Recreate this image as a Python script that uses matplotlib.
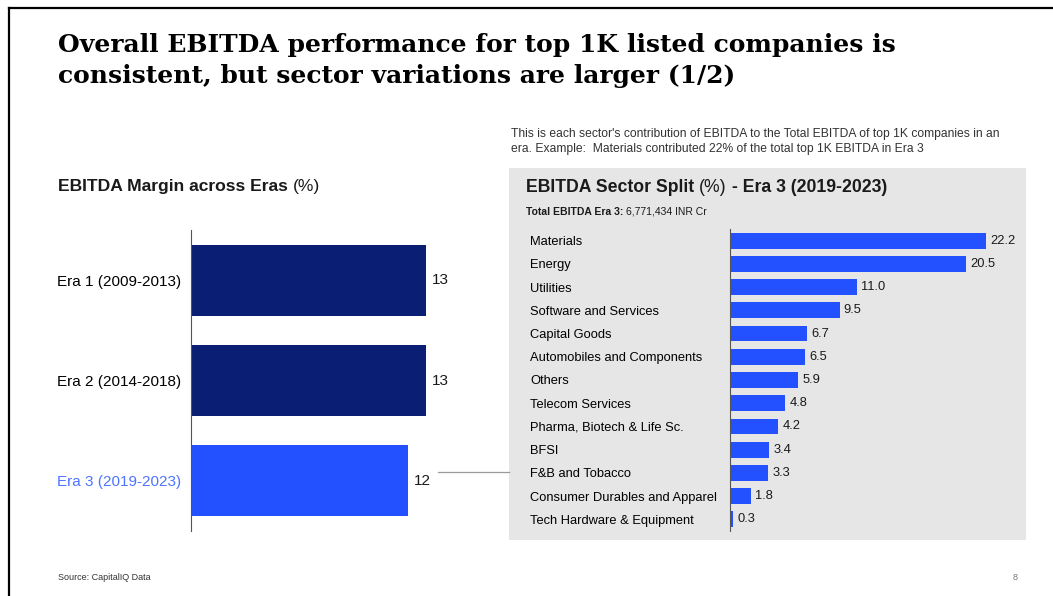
import matplotlib.pyplot as plt
from matplotlib.patches import Rectangle

# data
eras = ["Era 1 (2009-2013)", "Era 2 (2014-2018)", "Era 3 (2019-2023)"]
era_margin = [13, 13, 12]

sectors = ["Materials", "Energy", "Utilities", "Software and Services", "Capital Goods",
           "Automobiles and Components", "Others", "Telecom Services",
           "Pharma, Biotech & Life Sc.", "BFSI", "F&B and Tobacco",
           "Consumer Durables and Apparel", "Tech Hardware & Equipment"]
sector_share = [22.2, 20.5, 11.0, 9.5, 6.7, 6.5, 5.9, 4.8, 4.2, 3.4, 3.3, 1.8, 0.3]

NAVY = "#0A1F73"
BLUE = "#2451FF"
W, H = 1053, 596

plt.rcParams["font.family"] = ["Liberation Sans", "DejaVu Sans"]
fig = plt.figure(figsize=(W / 100, H / 100), dpi=100)
renderer = fig.canvas.get_renderer()

# invisible full-figure axes for free text, in pixel units
ov = fig.add_axes([0, 0, 1, 1])
ov.axis("off")
ov.set_xlim(0, W)
ov.set_ylim(H, 0)


def box(x0, y0, x1, y1):
    return [x0 / W, 1 - y1 / H, (x1 - x0) / W, (y1 - y0) / H]


def chain(x, y, parts, size):
    # pieces of different weight on one baseline
    for txt, wt in parts:
        t = ov.text(x, y, txt, fontsize=size, fontweight=wt, va="baseline",
                    color="#1a1a1a")
        x += t.get_window_extent(renderer).width


# slide frame
ov.plot([9, W], [8, 8], color="black", lw=1.6, clip_on=False)
ov.plot([9, 9], [8, H], color="black", lw=1.6, clip_on=False)

# title
ov.text(58, 52, "Overall EBITDA performance for top 1K listed companies is",
        fontsize=18, fontweight="bold", family="DejaVu Serif", va="baseline")
ov.text(58, 83, "consistent, but sector variations are larger (1/2)",
        fontsize=18, fontweight="bold", family="DejaVu Serif", va="baseline")

# note above right panel
ov.text(511, 137, "This is each sector's contribution of EBITDA to the Total EBITDA of top 1K companies in an",
        fontsize=8.7, color="#333333", va="baseline")
ov.text(511, 152, "era. Example:  Materials contributed 22% of the total top 1K EBITDA in Era 3",
        fontsize=8.7, color="#333333", va="baseline")

# gray panel
ov.add_patch(Rectangle((509, 168), 517, 372, facecolor="#E6E6E6", edgecolor="none",
                       zorder=0))

# panel titles
chain(58, 191, [("EBITDA Margin across Eras ", "bold"), ("(%)", "normal")], 12.6)
chain(526, 192, [("EBITDA Sector Split ", "bold"), ("(%)", "normal"),
                 (" - Era 3 (2019-2023)", "bold")], 12.7)
chain(526, 215, [("Total EBITDA Era 3: ", "bold"), ("6,771,434 INR Cr", "normal")], 7.5)

# connector
ov.plot([438, 509], [472, 472], color="#999999", lw=0.9)

# footer
ov.text(58, 580, "Source: CapitalIQ Data", fontsize=6.5, color="#333333", va="baseline")
ov.text(1013, 580, "8", fontsize=6.5, color="#777777", va="baseline")

# left chart
ax1 = fig.add_axes(box(191, 230, 470, 531))
bars1 = ax1.barh(range(len(eras)), era_margin, height=0.71,
                 color=[NAVY, NAVY, BLUE])
ax1.set_ylim(2.5, -0.5)
ax1.set_xlim(0, 15.43)
ax1.set_yticks(range(len(eras)))
ax1.set_yticklabels(eras, fontsize=11)
ax1.get_yticklabels()[2].set_color("#4D74FF")
ax1.tick_params(axis="y", length=0, pad=7)
ax1.set_xticks([])
for s in ["top", "right", "bottom"]:
    ax1.spines[s].set_visible(False)
ax1.spines["left"].set_color("#555555")
ax1.spines["left"].set_linewidth(0.8)
ax1.bar_label(bars1, labels=[str(v) for v in era_margin], padding=4, fontsize=11,
              color="#1a1a1a")
ax1.patch.set_visible(False)

# right chart
ax2 = fig.add_axes(box(730, 229, 1020, 531))
bars2 = ax2.barh(range(len(sectors)), sector_share, height=0.68, color=BLUE)
ax2.set_ylim(len(sectors) - 0.5, -0.5)
ax2.set_xlim(0, 25.15)
ax2.set_yticks(range(len(sectors)))
ax2.set_yticklabels(sectors, fontsize=9.3, ha="left")
ax2.tick_params(axis="y", length=0, pad=144)
ax2.set_xticks([])
for s in ["top", "right", "bottom"]:
    ax2.spines[s].set_visible(False)
ax2.spines["left"].set_color("#555555")
ax2.spines["left"].set_linewidth(0.8)
ax2.bar_label(bars2, labels=[f"{v:.1f}" for v in sector_share], padding=3,
              fontsize=9.3, color="#1a1a1a")
ax2.patch.set_visible(False)

fig.savefig("out.png", dpi=100)
